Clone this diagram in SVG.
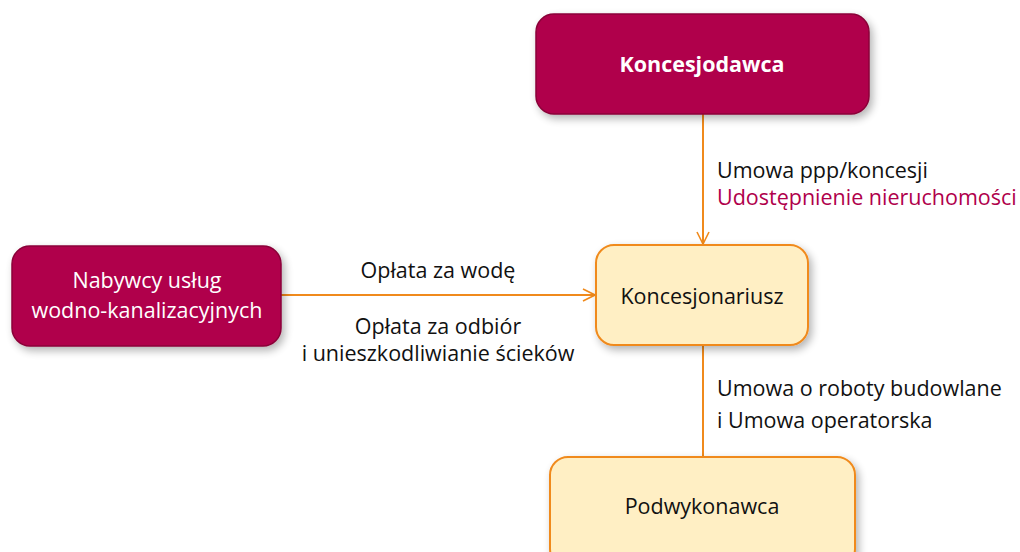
<svg xmlns="http://www.w3.org/2000/svg" width="1020" height="552" viewBox="0 0 1020 552">
<defs>
<filter id="sh" x="-20%" y="-20%" width="140%" height="150%">
<feGaussianBlur in="SourceAlpha" stdDeviation="4"/>
<feOffset dx="3" dy="4" result="b"/>
<feComponentTransfer><feFuncA type="linear" slope="0.3"/></feComponentTransfer>
<feMerge><feMergeNode/><feMergeNode in="SourceGraphic"/></feMerge>
</filter>
<marker id="arr" viewBox="0 0 14 14" refX="13" refY="7" markerWidth="14" markerHeight="14" markerUnits="userSpaceOnUse" orient="auto">
<path d="M1,1 L13,7 L1,13" fill="none" stroke="#F08A1C" stroke-width="1.6"/>
</marker>
<style>
.red{fill:#B0004B;stroke:#8A0038;stroke-width:1.5}
.yel{fill:#FFEFC4;stroke:#F08A1C;stroke-width:2}
.t{font-family:"Open Sans","Noto Sans",sans-serif;font-size:21.5px;fill:#111}
.w{fill:#fff}
.c{text-anchor:middle}
.m{fill:#B0004B}
.ln{fill:none;stroke:#F08A1C;stroke-width:2}
</style>
</defs>
<rect width="1020" height="552" fill="#fff"/>
<g id="connectors">
<line class="ln" x1="703" y1="114" x2="703" y2="244" marker-end="url(#arr)"/>
<line class="ln" x1="281" y1="295" x2="595" y2="295" marker-end="url(#arr)"/>
<line class="ln" x1="703" y1="345" x2="703" y2="457"/>
<text class="t" x="717" y="178">Umowa ppp/koncesji</text>
<text class="t m" x="717" y="205">Udostępnienie nieruchomości</text>
<text class="t c" x="438" y="278">Opłata za wodę</text>
<text class="t c" x="438" y="334">Opłata za odbiór</text>
<text class="t c" x="438" y="361">i unieszkodliwianie ścieków</text>
<text class="t" x="717" y="396">Umowa o roboty budowlane</text>
<text class="t" x="717" y="428">i Umowa operatorska</text>
</g>
<g id="koncesjodawca">
<rect class="red" x="536" y="14" width="333" height="100" rx="18" filter="url(#sh)"/>
<text class="t w c" x="702" y="72" font-weight="bold">Koncesjodawca</text>
</g>
<g id="koncesjonariusz">
<rect class="yel" x="596" y="245" width="212" height="100" rx="18" filter="url(#sh)"/>
<text class="t c" x="702" y="304">Koncesjonariusz</text>
</g>
<g id="nabywcy">
<rect class="red" x="12" y="246" width="269" height="100" rx="18" filter="url(#sh)"/>
<text class="t w c" x="147" y="288">Nabywcy usług</text>
<text class="t w c" x="147" y="318">wodno-kanalizacyjnych</text>
</g>
<g id="podwykonawca">
<rect class="yel" x="550" y="457" width="305" height="110" rx="18" filter="url(#sh)"/>
<text class="t c" x="702" y="514">Podwykonawca</text>
</g>
</svg>
